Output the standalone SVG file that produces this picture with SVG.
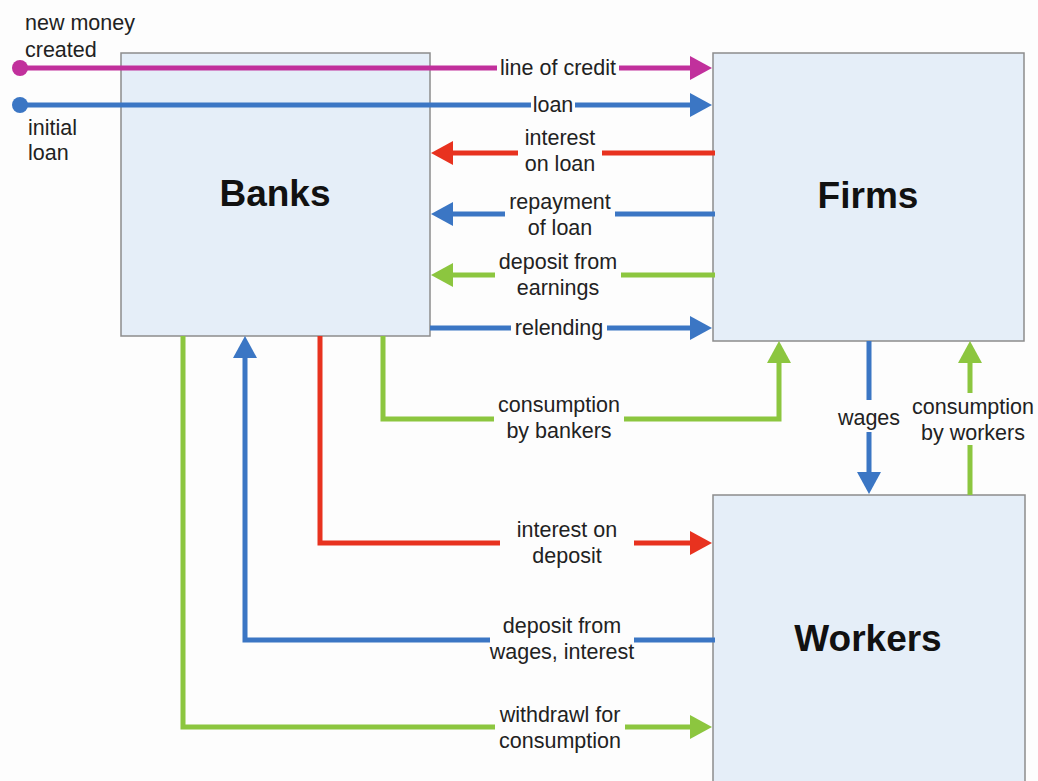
<svg xmlns="http://www.w3.org/2000/svg" width="1038" height="781" viewBox="0 0 1038 781">
  <style>
    .box { fill: #e5eef8; stroke: #8c8c8c; stroke-width: 1.5; }
    .title { font-family: "Liberation Sans", Arial, sans-serif; font-weight: bold; font-size: 37px; fill: #111; text-anchor: middle; }
    .lbl { font-family: "Liberation Sans", Arial, sans-serif; font-size: 21.5px; fill: #222; text-anchor: middle; }
    .lbl-l { font-family: "Liberation Sans", Arial, sans-serif; font-size: 21.5px; fill: #222; }
    .bg { fill: #fdfdfd; }
    .flow { fill: none; stroke-width: 5; stroke-linejoin: miter; }
    .magenta { stroke: #c1309c; }
    .blue { stroke: #3b76c4; }
    .red { stroke: #e8321f; }
    .green { stroke: #8cc63f; }
  </style>
  <defs>
    <marker id="ah-magenta" markerUnits="userSpaceOnUse" markerWidth="24" markerHeight="26" refX="2" refY="12" orient="auto">
      <path d="M0,0 L22,12 L0,24 Z" fill="#c1309c"/>
    </marker>
    <marker id="ah-blue" markerUnits="userSpaceOnUse" markerWidth="24" markerHeight="26" refX="2" refY="12" orient="auto">
      <path d="M0,0 L22,12 L0,24 Z" fill="#3b76c4"/>
    </marker>
    <marker id="ah-red" markerUnits="userSpaceOnUse" markerWidth="24" markerHeight="26" refX="2" refY="12" orient="auto">
      <path d="M0,0 L22,12 L0,24 Z" fill="#e8321f"/>
    </marker>
    <marker id="ah-green" markerUnits="userSpaceOnUse" markerWidth="24" markerHeight="26" refX="2" refY="12" orient="auto">
      <path d="M0,0 L22,12 L0,24 Z" fill="#8cc63f"/>
    </marker>
  </defs>

  <rect width="1038" height="781" fill="#fdfdfd"/>

  <!-- sectors -->
  <g id="banks">
    <rect class="box" x="121" y="53" width="309" height="283"/>
    <text class="title" x="275" y="206">Banks</text>
  </g>
  <g id="firms">
    <rect class="box" x="713" y="53" width="311" height="288"/>
    <text class="title" x="868" y="208">Firms</text>
  </g>
  <g id="workers">
    <rect class="box" x="713" y="495" width="312" height="300"/>
    <text class="title" x="868" y="651">Workers</text>
  </g>

  <!-- money flows -->
  <g id="connectors">
    <path class="flow magenta" d="M20,68 H692" marker-end="url(#ah-magenta)"/>
    <circle cx="20" cy="68" r="8" fill="#c1309c"/>
    <path class="flow blue" d="M20,105 H692" marker-end="url(#ah-blue)"/>
    <circle cx="20" cy="105" r="8" fill="#3b76c4"/>
    <path class="flow red" d="M715,153 H451" marker-end="url(#ah-red)"/>
    <path class="flow blue" d="M715,214 H451" marker-end="url(#ah-blue)"/>
    <path class="flow green" d="M715,275 H451" marker-end="url(#ah-green)"/>
    <path class="flow blue" d="M430,328 H692" marker-end="url(#ah-blue)"/>
    <path class="flow green" d="M383,336 V419 H779 V361" marker-end="url(#ah-green)"/>
    <path class="flow red" d="M320,336 V543 H692" marker-end="url(#ah-red)"/>
    <path class="flow blue" d="M869,341 V474" marker-end="url(#ah-blue)"/>
    <path class="flow green" d="M970,495 V361" marker-end="url(#ah-green)"/>
    <path class="flow blue" d="M715,640 H245 V356" marker-end="url(#ah-blue)"/>
    <path class="flow green" d="M183,336 V727 H692" marker-end="url(#ah-green)"/>
  </g>

  <!-- flow labels -->
  <g id="labels">
    <text class="lbl-l" x="25" y="30">new money</text>
    <text class="lbl-l" x="25" y="57">created</text>
    <text class="lbl-l" x="28" y="135">initial</text>
    <text class="lbl-l" x="28" y="160">loan</text>

    <rect class="bg" x="497" y="56" width="122" height="24"/>
    <text class="lbl" x="558" y="75">line of credit</text>
    <rect class="bg" x="531" y="93" width="44" height="24"/>
    <text class="lbl" x="553" y="112">loan</text>

    <rect class="bg" x="518" y="128" width="84" height="48"/>
    <text class="lbl" x="560" y="145">interest</text>
    <text class="lbl" x="560" y="171">on loan</text>

    <rect class="bg" x="505" y="190" width="110" height="48"/>
    <text class="lbl" x="560" y="209">repayment</text>
    <text class="lbl" x="560" y="235">of loan</text>

    <rect class="bg" x="495" y="251" width="126" height="48"/>
    <text class="lbl" x="558" y="269">deposit from</text>
    <text class="lbl" x="558" y="295">earnings</text>

    <rect class="bg" x="511" y="316" width="96" height="24"/>
    <text class="lbl" x="559" y="335">relending</text>

    <rect class="bg" x="494" y="394" width="130" height="48"/>
    <text class="lbl" x="559" y="412">consumption</text>
    <text class="lbl" x="559" y="438">by bankers</text>

    <rect class="bg" x="834" y="400" width="70" height="32"/>
    <text class="lbl" x="869" y="425">wages</text>

    <rect class="bg" x="908" y="393" width="130" height="52"/>
    <text class="lbl" x="973" y="414">consumption</text>
    <text class="lbl" x="973" y="440">by workers</text>

    <rect class="bg" x="500" y="518" width="134" height="50"/>
    <text class="lbl" x="567" y="537">interest on</text>
    <text class="lbl" x="567" y="563">deposit</text>

    <rect class="bg" x="490" y="614" width="144" height="50"/>
    <text class="lbl" x="562" y="633">deposit from</text>
    <text class="lbl" x="562" y="659">wages, interest</text>

    <rect class="bg" x="495" y="703" width="130" height="50"/>
    <text class="lbl" x="560" y="722">withdrawl for</text>
    <text class="lbl" x="560" y="748">consumption</text>
  </g>
</svg>
